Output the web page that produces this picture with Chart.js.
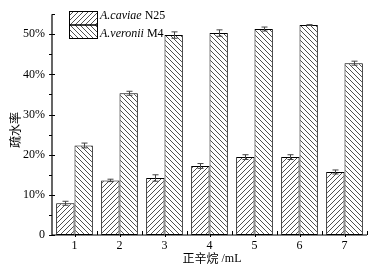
<!DOCTYPE html>
<html>
<head>
<meta charset="utf-8">
<script src="https://cdn.jsdelivr.net/npm/chart.js@4"></script>
<style>
  body { margin: 0; background: #fff; }
  #wrap { width: 374px; height: 272px; }
</style>
</head>
<body>
<div id="wrap"><canvas id="chart1"></canvas></div>
<script>
// datos
const categories = ['1', '2', '3', '4', '5', '6', '7'];
const caviaeN25 = [7.9, 13.6, 14.2, 17.2, 19.4, 19.4, 15.7];
const caviaeErr = [0.5, 0.3, 0.8, 0.6, 0.6, 0.6, 0.5];
const veroniiM4 = [22.3, 35.3, 49.8, 50.3, 51.3, 52.3, 42.8];
const veroniiErr = [0.6, 0.5, 0.8, 0.8, 0.5, 0.1, 0.5];
const yTicks = [0, 10, 20, 30, 40, 50];

const SERIF = "'Liberation Serif', 'Times New Roman', serif";
const CJK = "'Noto Sans CJK SC', sans-serif";

const ctx = document.getElementById('chart1').getContext('2d');

// patrón de rayado
function hatch(dir) {
    const s = 5;
    const c = document.createElement('canvas');
    c.width = s; c.height = s;
    const g = c.getContext('2d');
    g.fillStyle = '#fff';
    g.fillRect(0, 0, s, s);
    g.strokeStyle = '#505050';
    g.lineWidth = 1;
    g.beginPath();
    if (dir > 0) {
        g.moveTo(0, s); g.lineTo(s, 0);
        g.moveTo(-1, 1); g.lineTo(1, -1);
        g.moveTo(s - 1, s + 1); g.lineTo(s + 1, s - 1);
    } else {
        g.moveTo(0, 0); g.lineTo(s, s);
        g.moveTo(-1, s - 1); g.lineTo(1, s + 1);
        g.moveTo(s - 1, -1); g.lineTo(s + 1, 1);
    }
    g.stroke();
    return ctx.createPattern(c, 'repeat');
}
const pat1 = hatch(1);
const pat2 = hatch(-1);

const errs = [caviaeErr, veroniiErr];

const extras = {
    id: 'extras',
    beforeDraw(chart) {
        const c = chart.ctx;
        c.save();
        c.fillStyle = '#fff';
        c.fillRect(0, 0, chart.width, chart.height);
        c.restore();
    },
    afterDatasetsDraw(chart) {
        const c = chart.ctx;
        const x = chart.scales.x, y = chart.scales.y;
        const a = chart.chartArea;
        c.save();
        // barras de error
        c.strokeStyle = '#444';
        c.lineWidth = 1;
        chart.data.datasets.forEach((ds, i) => {
            chart.getDatasetMeta(i).data.forEach((bar, j) => {
                const v = ds.data[j], e = errs[i][j];
                const bx = Math.round(bar.x) + 0.5;
                const y1 = y.getPixelForValue(v + e), y2 = y.getPixelForValue(v - e);
                c.beginPath();
                c.moveTo(bx, y1); c.lineTo(bx, y2);
                c.moveTo(bx - 3, y1); c.lineTo(bx + 3, y1);
                c.moveTo(bx - 3, y2); c.lineTo(bx + 3, y2);
                c.stroke();
            });
        });
        // ejes
        c.strokeStyle = '#000';
        c.lineWidth = 1.2;
        c.beginPath();
        c.moveTo(a.left, a.top); c.lineTo(a.left, a.bottom); c.lineTo(a.right, a.bottom);
        c.stroke();
        c.lineWidth = 1;
        c.beginPath();
        for (let v = 0; v <= 50; v += 5) {
            const py = Math.round(y.getPixelForValue(v)) + 0.5;
            if (v % 10 === 0) {
                c.moveTo(a.left - 3, py); c.lineTo(a.left + 3, py);
            } else {
                c.moveTo(a.left - 3, py); c.lineTo(a.left, py);
            }
        }
        const topY = Math.round(a.top) + 0.5;
        c.moveTo(a.left, topY); c.lineTo(a.left + 3, topY);
        const step = (a.right - a.left) / categories.length;
        for (let k = 1; k <= categories.length; k++) {
            const px = Math.round(a.left + k * step) + 0.5;
            c.moveTo(px, a.bottom); c.lineTo(px, a.bottom - 4);
        }
        for (let k = 0; k < categories.length; k++) {
            const px = Math.round(x.getPixelForValue(k)) + 0.5;
            c.moveTo(px, a.bottom); c.lineTo(px, a.bottom + 2);
        }
        c.stroke();
        // leyenda
        const lx = 69, lw = 28;
        c.fillStyle = pat1;
        c.fillRect(lx, 11.5, lw, 13.5);
        c.fillStyle = pat2;
        c.fillRect(lx, 25, lw, 13.5);
        c.strokeStyle = '#000';
        c.strokeRect(lx + 0.5, 11.5, lw, 13.5);
        c.strokeRect(lx + 0.5, 25, lw, 13.5);
        c.fillStyle = '#000';
        c.textBaseline = 'alphabetic';
        const items = [['A.caviae', ' N25', 19], ['A.veronii', ' M4', 37]];
        items.forEach(([it, rest, by]) => {
            c.font = 'italic 12px ' + SERIF;
            c.fillText(it, 100, by);
            const w = c.measureText(it).width;
            c.font = '12px ' + SERIF;
            c.fillText(rest, 100 + w, by);
        });
        // títulos
        c.textBaseline = 'middle';
        c.font = '12px ' + CJK;
        const t1 = '正辛烷';
        const w1 = c.measureText(t1).width;
        c.font = '12px ' + SERIF;
        const t2 = ' /mL';
        const w2 = c.measureText(t2).width;
        const sx = 212 - (w1 + w2) / 2;
        c.font = '12px ' + CJK;
        c.fillText(t1, sx, 258);
        c.font = '12px ' + SERIF;
        c.fillText(t2, sx + w1, 259);
        c.save();
        c.translate(15, 130);
        c.rotate(-Math.PI / 2);
        c.textAlign = 'center';
        c.font = '12px ' + CJK;
        c.fillText('疏水率', 0, 0);
        c.restore();
        c.restore();
    }
};

new Chart(ctx, {
    type: 'bar',
    data: {
        labels: categories,
        datasets: [
            {
                label: 'A.caviae N25',
                data: caviaeN25,
                backgroundColor: pat1,
                borderColor: '#000',
                borderWidth: 1,
                borderSkipped: false,
            },
            {
                label: 'A.veronii M4',
                data: veroniiM4,
                backgroundColor: pat2,
                borderColor: '#000',
                borderWidth: 1,
                borderSkipped: false,
            },
        ],
    },
    options: {
        responsive: true,
        maintainAspectRatio: false,
        animation: false,
        layout: { padding: { top: 8, right: 7, left: 0, bottom: 0 } },
        datasets: { bar: { categoryPercentage: 0.815, barPercentage: 1 } },
        plugins: { legend: { display: false }, tooltip: { enabled: false } },
        scales: {
            x: {
                offset: true,
                grid: { display: false, drawTicks: false },
                border: { display: false },
                ticks: { color: '#000', font: { family: SERIF, size: 12 }, padding: 4 },
                afterFit: (s) => { s.height = 37; },
            },
            y: {
                min: 0,
                max: 55,
                grid: { display: false, drawTicks: false },
                border: { display: false },
                afterBuildTicks: (s) => { s.ticks = yTicks.map((v) => ({ value: v })); },
                ticks: {
                    color: '#000',
                    font: { family: SERIF, size: 12 },
                    padding: 7,
                    callback: (v) => (v === 0 ? '0' : v + '%'),
                },
                afterFit: (s) => { s.width = 52; },
            },
        },
    },
    plugins: [extras],
});
</script>
</body>
</html>
